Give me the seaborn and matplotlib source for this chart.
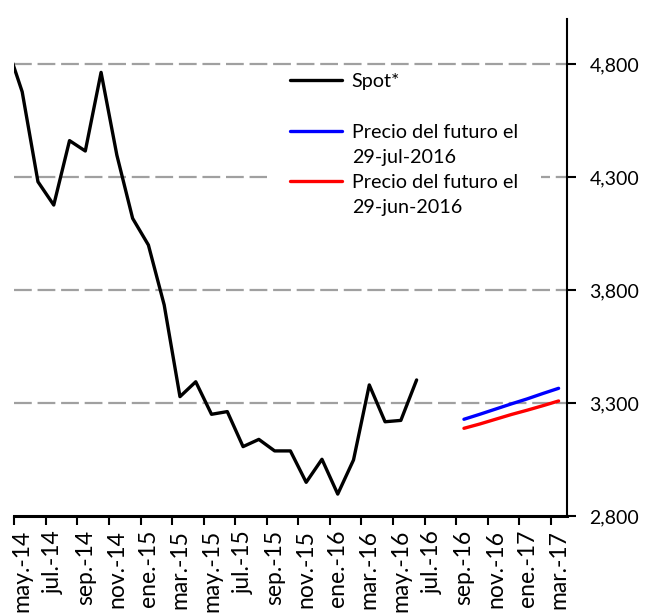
import matplotlib
matplotlib.use("Agg")
import matplotlib.pyplot as plt
import numpy as np
import pandas as pd
import seaborn as sns
from matplotlib.lines import Line2D
from matplotlib.patches import Rectangle
from matplotlib.ticker import FuncFormatter, FixedLocator

# ---------------- data ----------------
months = [
    "abr.-14", "may.-14", "jun.-14", "jul.-14", "ago.-14", "sep.-14", "oct.-14", "nov.-14", "dic.-14",
    "ene.-15", "feb.-15", "mar.-15", "abr.-15", "may.-15", "jun.-15", "jul.-15", "ago.-15", "sep.-15",
    "oct.-15", "nov.-15", "dic.-15",
    "ene.-16", "feb.-16", "mar.-16", "abr.-16", "may.-16", "jun.-16", "jul.-16", "ago.-16", "sep.-16",
    "oct.-16", "nov.-16", "dic.-16",
    "ene.-17", "feb.-17", "mar.-17",
]
tick_labels = ["may.-14", "jul.-14", "sep.-14", "nov.-14", "ene.-15", "mar.-15", "may.-15", "jul.-15",
               "sep.-15", "nov.-15", "ene.-16", "mar.-16", "may.-16", "jul.-16", "sep.-16", "nov.-16",
               "ene.-17", "mar.-17"]

spot_months = months[:27]  # abr.-14 .. jun.-16
spot_values = [4887, 4677, 4279, 4176, 4461, 4415, 4763, 4397, 4117,
               3999, 3734, 3328, 3394, 3250, 3262, 3107, 3139, 3088,
               3088, 2949, 3051,
               2897, 3048, 3380, 3217, 3223, 3402]

fut_months = ["sep.-16", "oct.-16", "nov.-16", "dic.-16", "ene.-17", "feb.-17", "mar.-17"]
fut_jul = [3228, 3250, 3273, 3296, 3318, 3342, 3365]
fut_jun = [3188, 3207, 3228, 3249, 3268, 3288, 3309]

y_ticks = [2800, 3300, 3800, 4300, 4800]

# ---------------- style ----------------
sns.set_style("white")
plt.rcParams["font.family"] = ["Lato", "DejaVu Sans"]
FS_Y = 14
FS_X = 16.5
FS_L = 14.2

pos = {m: i for i, m in enumerate(months)}
spot_df = pd.DataFrame({"x": [pos[m] for m in spot_months], "v": spot_values})
jul_df = pd.DataFrame({"x": [pos[m] for m in fut_months], "v": fut_jul})
jun_df = pd.DataFrame({"x": [pos[m] for m in fut_months], "v": fut_jun})

fig = plt.figure(figsize=(6.68, 6.16), dpi=100)
ax = fig.add_axes([14.3 / 668, 1 - 516 / 616, (566.5 - 14.3) / 668, (516 - 18.8) / 616])

sns.lineplot(data=spot_df, x="x", y="v", ax=ax, color="black", lw=2.4, zorder=4)
sns.lineplot(data=jul_df, x="x", y="v", ax=ax, color="#0000FF", lw=2.4, zorder=4)
sns.lineplot(data=jun_df, x="x", y="v", ax=ax, color="#FF0000", lw=2.4, zorder=4)

ax.set_xlim(0.5, len(months) - 0.5)
ax.set_ylim(2800, 5000)

# y axis on right
ax.yaxis.tick_right()
ax.yaxis.set_label_position("right")
ax.set_yticks(y_ticks)
ax.yaxis.set_major_formatter(FuncFormatter(lambda v, p: f"{int(v):,}"))
ax.tick_params(axis="y", which="major", direction="out", length=6.5, width=1.5,
               color="black", labelsize=FS_Y, pad=10, labelcolor="black", right=True, left=False)

# x axis: labels at category centres, ticks at boundaries
ax.xaxis.set_major_locator(FixedLocator([pos[m] for m in tick_labels]))
ax.set_xticklabels(tick_labels, rotation=90, fontsize=FS_X, va="top", ha="center")
ax.xaxis.set_minor_locator(FixedLocator([pos[m] - 0.5 for m in tick_labels]))
ax.tick_params(axis="x", which="major", length=0, pad=10, labelcolor="black")
ax.tick_params(axis="x", which="minor", direction="out", length=6.5, width=1.5,
               color="black", bottom=True)

ax.set_xlabel("")
ax.set_ylabel("")

for s in ["left", "top"]:
    ax.spines[s].set_visible(False)
ax.spines["right"].set_color("black")
ax.spines["right"].set_linewidth(1.5)
ax.spines["bottom"].set_color("black")
ax.spines["bottom"].set_linewidth(2.2)

# grid
for yv in y_ticks[1:]:
    ax.axhline(yv, color="#A0A0A0", lw=1.6, ls=(0, (8, 2.6)), zorder=1)

# legend background box
ax.add_patch(Rectangle(((267 - 14.3) / 552.2, 1 - (226 - 18.8) / 497.2),
                       (541 - 267) / 552.2, (226 - 68) / 497.2,
                       transform=ax.transAxes, facecolor="white", edgecolor="none", zorder=2))

blank = Line2D([], [], color="none")
handles = [Line2D([], [], color="black", lw=2.4), blank,
           Line2D([], [], color="#0000FF", lw=2.4), blank,
           Line2D([], [], color="#FF0000", lw=2.4), blank]
labels = ["Spot*", " ", "Precio del futuro el", "29-jul-2016", "Precio del futuro el", "29-jun-2016"]
leg = ax.legend(handles, labels, loc="upper left",
                bbox_to_anchor=((288 - 14.3) / 552.2, 1 - (71 - 18.8) / 497.2),
                frameon=False, fontsize=FS_L, handlelength=2.65, handletextpad=0.48,
                labelspacing=0.42, borderpad=0.1, borderaxespad=0)
leg.set_zorder(5)
for t in leg.get_texts():
    t.set_color("black")

fig.savefig("out.png", dpi=100)
